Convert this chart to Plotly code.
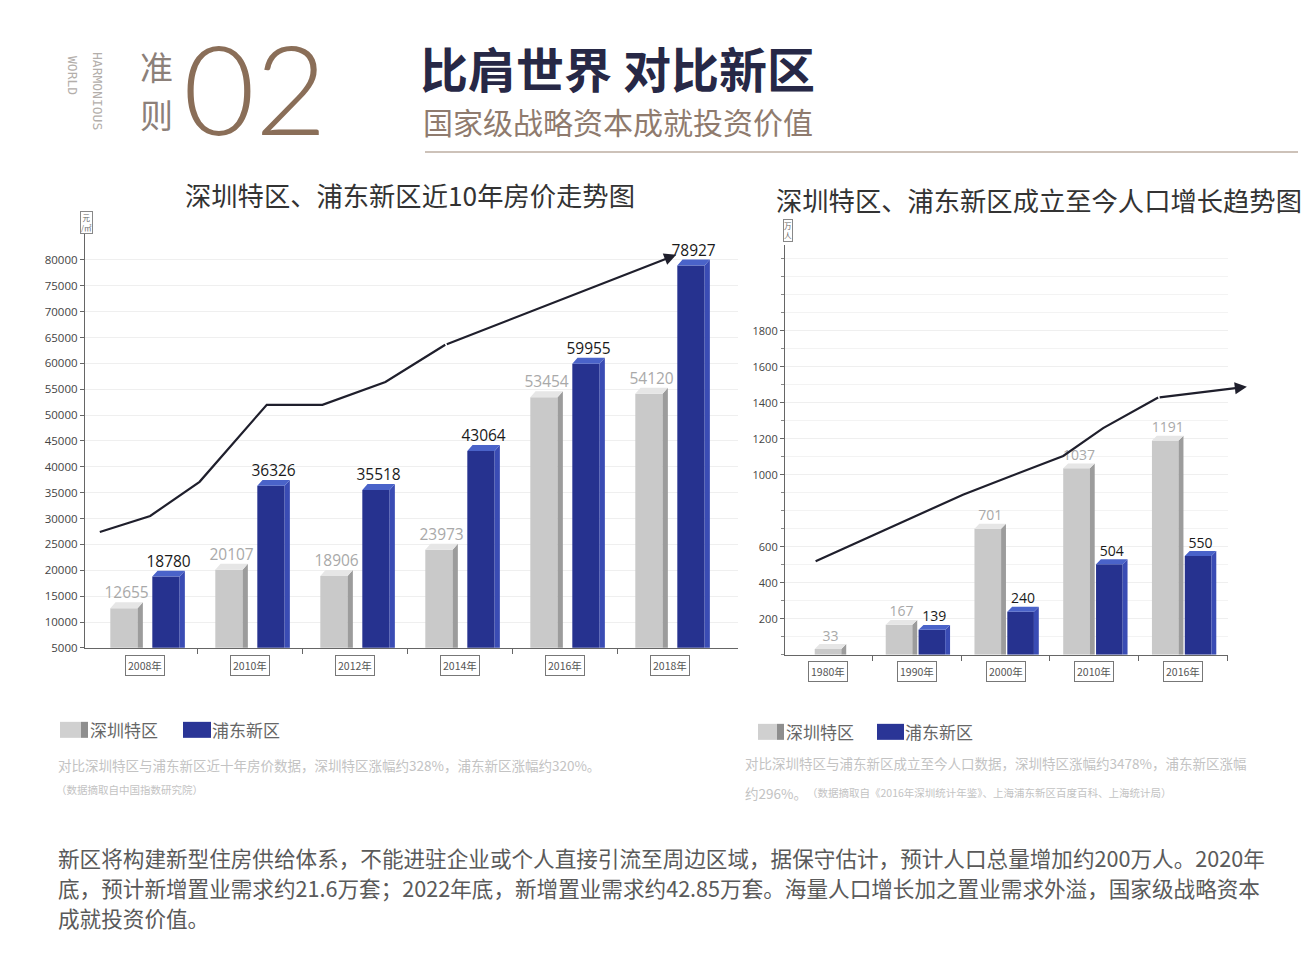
import plotly.graph_objects as go

# ---------------- data ----------------
# Left chart: house prices (元/㎡)
price_years = ["2008年", "2010年", "2012年", "2014年", "2016年", "2018年"]
price_sz = [12655, 20107, 18906, 23973, 53454, 54120]   # 深圳特区
price_pd = [18780, 36326, 35518, 43064, 59955, 78927]   # 浦东新区
price_ticks = [5000, 10000, 15000, 20000, 25000, 30000, 35000, 40000,
               45000, 50000, 55000, 60000, 65000, 70000, 75000, 80000]
# decorative trend arrow (category position, 元/㎡)
price_trend_x = [-0.43, 0.05, 0.52, 1.16, 1.69, 2.29, 2.86, 5.06]
price_trend_y = [27400, 30500, 37100, 52000, 52000, 56400, 63600, 81000]

# Right chart: population (万人)
pop_years = ["1980年", "1990年", "2000年", "2010年", "2016年"]
pop_sz = [33, 167, 701, 1037, 1191]       # 深圳特区
pop_pd = [None, 139, 240, 504, 550]       # 浦东新区
pop_ticks = [200, 400, 600, 1000, 1200, 1400, 1600, 1800]
pop_trend_x = [-0.14, 1.52, 1.86, 2.65, 3.10, 3.72, 4.72]
pop_trend_y = [520, 890, 955, 1105, 1260, 1430, 1490]

series_names = ["深圳特区", "浦东新区"]

# ---------------- styling ----------------
W, H = 1316, 976
VS = 1.007   # small vertical calibration
CJK = "Noto Sans CJK SC"
GREY = dict(front="#c9c9c9", side="#9c9c9c", top="#e6e6e6", label="#a9a9a9")
BLUE = dict(front="#26328f", side="#3a4cb4", top="#4a63c9", label="#1a1a1a")
LINE_C = "#1f1f2c"


def X(px):
    return px / W


def Y(py):
    return 1 - py * VS / H


fig = go.Figure()


def add_3d_bars(xs, vs, width, dx, dy, col, xa, ya, name, fsize):
    fig.add_trace(go.Bar(x=xs, y=vs, width=width, name=name,
                         marker=dict(color=col["front"], line=dict(width=0)),
                         xaxis=xa, yaxis=ya, showlegend=False))
    sx, sy, tx, ty = [], [], [], []
    for x, v in zip(xs, vs):
        l, r = x - width / 2, x + width / 2
        sx += [r, r, r + dx, r + dx, r, None]
        sy += [0, v, v + dy, 0, 0, None]
        tx += [l, l + dx, r + dx, r, l, None]
        ty += [v, v + dy, v + dy, v, v, None]
    fig.add_trace(go.Scatter(x=sx, y=sy, fill="toself", fillcolor=col["side"],
                             mode="lines", line=dict(width=0), xaxis=xa, yaxis=ya,
                             showlegend=False, hoverinfo="skip"))
    fig.add_trace(go.Scatter(x=tx, y=ty, fill="toself", fillcolor=col["top"],
                             mode="lines", line=dict(width=0), xaxis=xa, yaxis=ya,
                             showlegend=False, hoverinfo="skip"))
    fig.add_trace(go.Scatter(x=[x + dx / 2 for x in xs], y=[v + dy for v in vs],
                             mode="text", text=[str(v) for v in vs],
                             textposition="top center", cliponaxis=False,
                             textfont=dict(family="Open Sans", size=fsize, color=col["label"]),
                             xaxis=xa, yaxis=ya, showlegend=False, hoverinfo="skip"))


# ---- left chart bars
L_W, L_DX, L_DY = 0.26, 0.05, 1150
idx = list(range(len(price_years)))
add_3d_bars([i - 0.2 for i in idx], price_sz, L_W, L_DX, L_DY, GREY, "x", "y", series_names[0], 15.5)
add_3d_bars([i + 0.2 for i in idx], price_pd, L_W, L_DX, L_DY, BLUE, "x", "y", series_names[1], 15.5)

# ---- right chart bars
R_W, R_DX, R_DY = 0.30, 0.055, 27
sz_x = [i + (-0.2 if pop_pd[i] is not None else 0.0) for i in range(len(pop_years))]
add_3d_bars(sz_x, pop_sz, R_W, R_DX, R_DY, GREY, "x2", "y2", series_names[0], 14)
pd_x = [i + 0.17 for i in range(len(pop_years)) if pop_pd[i] is not None]
pd_v = [v for v in pop_pd if v is not None]
add_3d_bars(pd_x, pd_v, R_W, R_DX, R_DY, BLUE, "x2", "y2", series_names[1], 14)

# ---- trend lines with arrow heads
fig.add_trace(go.Scatter(x=price_trend_x[:-1], y=price_trend_y[:-1], mode="lines",
                         line=dict(color=LINE_C, width=2.2), xaxis="x", yaxis="y",
                         showlegend=False, hoverinfo="skip"))
fig.add_trace(go.Scatter(x=pop_trend_x[:-1], y=pop_trend_y[:-1], mode="lines",
                         line=dict(color=LINE_C, width=2.2), xaxis="x2", yaxis="y2",
                         showlegend=False, hoverinfo="skip"))

ann = []
ann.append(dict(x=price_trend_x[-1], y=price_trend_y[-1], ax=price_trend_x[-2], ay=price_trend_y[-2],
                xref="x", yref="y", axref="x", ayref="y", text="", showarrow=True,
                arrowhead=2, arrowsize=1.1, arrowwidth=2.2, arrowcolor=LINE_C))
ann.append(dict(x=pop_trend_x[-1], y=pop_trend_y[-1], ax=pop_trend_x[-2], ay=pop_trend_y[-2],
                xref="x2", yref="y2", axref="x2", ayref="y2", text="", showarrow=True,
                arrowhead=2, arrowsize=1.1, arrowwidth=2.2, arrowcolor=LINE_C))

# ---- boxed category labels
for i, t in enumerate(price_years):
    ann.append(dict(x=i, y=Y(666), xref="x", yref="paper", text=t, showarrow=False,
                    xanchor="center", yanchor="middle",
                    font=dict(family=CJK, size=10.5, color="#555"), bordercolor="#777",
                    borderwidth=1, borderpad=2, bgcolor="white"))
for i, t in enumerate(pop_years):
    ann.append(dict(x=i, y=Y(672), xref="x2", yref="paper", text=t, showarrow=False,
                    xanchor="center", yanchor="middle",
                    font=dict(family=CJK, size=10.5, color="#555"), bordercolor="#777",
                    borderwidth=1, borderpad=2, bgcolor="white"))

# ---- unit boxes
ann.append(dict(x=X(86), y=Y(223), xref="paper", yref="paper", text="元<br>/㎡", showarrow=False,
                xanchor="center", yanchor="middle",
                font=dict(family=CJK, size=7.5, color="#666"), bordercolor="#888", borderwidth=1,
                borderpad=0, bgcolor="white"))
ann.append(dict(x=X(788), y=Y(231), xref="paper", yref="paper", text="万<br>人", showarrow=False,
                xanchor="center", yanchor="middle",
                font=dict(family=CJK, size=7.5, color="#666"), bordercolor="#888", borderwidth=1,
                borderpad=0, bgcolor="white"))


def txt(px, py, s, size, color, anchor="left", family=CJK, weight=None, angle=0):
    f = dict(family=family, size=size, color=color)
    if weight:
        f["weight"] = weight
    ann.append(dict(x=X(px), y=Y(py), xref="paper", yref="paper", text=s, showarrow=False,
                    xanchor=anchor, yanchor="middle", font=f, textangle=angle))


# ---- header
txt(97, 91, "HARMONIOUS", 13, "#b3aeaa", anchor="center", family="DejaVu Sans Mono", angle=90)
txt(72, 75, "WORLD", 13, "#b3aeaa", anchor="center", family="DejaVu Sans Mono", angle=90)
txt(156, 66, "准", 33, "#8c8079", anchor="center")
txt(156, 114, "则", 33, "#8c8079", anchor="center")
txt(181, 87, "02", 124, "#8a6e58", family="Lato", weight=300)
txt(418, 67, "比肩世界 对比新区", 48, "#272846", weight="bold")
txt(421, 121, "国家级战略资本成就投资价值", 30, "#8f7b6e")

# ---- chart titles
txt(410, 195, "深圳特区、浦东新区近10年房价走势图", 26.3, "#333333", anchor="center")
txt(1039, 200, "深圳特区、浦东新区成立至今人口增长趋势图", 26.3, "#333333", anchor="center")

# ---- manual legends
shapes = []


def rect(x0, y0, x1, y1, color):
    shapes.append(dict(type="rect", xref="paper", yref="paper", x0=X(x0), x1=X(x1),
                       y0=Y(y1), y1=Y(y0), fillcolor=color, line=dict(width=0), layer="above"))


rect(60, 722, 81, 738, "#d0d0d0")
rect(81, 722, 88, 738, "#8e8e8e")
txt(88, 730, series_names[0], 17, "#666666")
rect(183, 722, 211, 738, "#2a3596")
txt(210, 730, series_names[1], 17, "#666666")
rect(758, 724, 777, 740, "#d0d0d0")
rect(777, 724, 784, 740, "#8e8e8e")
txt(784, 732, series_names[0], 17, "#666666")
rect(877, 724, 904, 740, "#2a3596")
txt(903, 732, series_names[1], 17, "#666666")

# ---- notes
NOTE = "#c3c3c3"
txt(56, 765, "对比深圳特区与浦东新区近十年房价数据，深圳特区涨幅约328%，浦东新区涨幅约320%。", 13.5, NOTE)
txt(54, 790, "（数据摘取自中国指数研究院）", 10.5, NOTE)
txt(743, 763, "对比深圳特区与浦东新区成立至今人口数据，深圳特区涨幅约3478%，浦东新区涨幅", 13.5, NOTE)
txt(743, 793, "约296%。", 13.5, NOTE)
txt(805, 793, "（数据摘取自《2016年深圳统计年鉴》、上海浦东新区百度百科、上海统计局）", 10.5, NOTE)

# ---- body paragraph
BODY = "#5a5a5a"
txt(56, 858, "新区将构建新型住房供给体系，不能进驻企业或个人直接引流至周边区域，据保守估计，预计人口总量增加约200万人。2020年", 21.6, BODY)
txt(56, 888, "底，预计新增置业需求约21.6万套；2022年底，新增置业需求约42.85万套。海量人口增长加之置业需求外溢，国家级战略资本", 21.6, BODY)
txt(56, 918, "成就投资价值。", 21.6, BODY)

# header rule
shapes.append(dict(type="line", xref="paper", yref="paper", x0=X(425), x1=X(1298),
                   y0=Y(152), y1=Y(152), line=dict(color="#bcaea2", width=1.5)))

axis_common = dict(showline=True, linecolor="#666666", linewidth=1.2, zeroline=False)

fig.update_layout(
    width=W, height=H, margin=dict(l=0, r=0, t=0, b=0),
    paper_bgcolor="white", plot_bgcolor="white", barmode="overlay",
    showlegend=False, annotations=ann, shapes=shapes,
    xaxis=dict(domain=[X(85), X(738)], range=[-0.571, 5.648], anchor="y",
               tickmode="array", tickvals=[0.5, 1.5, 2.5, 3.5, 4.5], showticklabels=False,
               ticks="outside", ticklen=5, tickcolor="#666", showgrid=False, **axis_common),
    yaxis=dict(domain=[Y(648), Y(225)], range=[5000, 86770], anchor="x",
               tickmode="array", tickvals=price_ticks, tickformat="d",
               ticks="outside", ticklen=4, tickcolor="#666",
               tickfont=dict(family="Open Sans", size=11.5, color="#444"),
               showgrid=True, gridcolor="#efefef", gridwidth=1, **axis_common),
    xaxis2=dict(domain=[X(785), X(1228)], range=[-0.485, 4.507], anchor="y2",
                tickmode="array", tickvals=[0.5, 1.5, 2.5, 3.5, 4.5], showticklabels=False,
                ticks="outside", ticklen=5, tickcolor="#666", showgrid=False, **axis_common),
    yaxis2=dict(domain=[Y(655), Y(245)], range=[0, 2278], anchor="x2",
                tickmode="array", tickvals=pop_ticks,
                ticks="outside", ticklen=4, tickcolor="#666",
                tickfont=dict(family="Open Sans", size=11, color="#444"),
                minor=dict(dtick=100, tick0=0, ticks="outside", ticklen=3, tickcolor="#888",
                           showgrid=True, gridcolor="#f3f3f3"),
                showgrid=True, gridcolor="#efefef", gridwidth=1, **axis_common),
)

# remove the default 8px page margin so the figure sits at the window origin
fig.write_html("out.html", config={"displayModeBar": False},
               post_script="document.body.style.margin='0px';")
